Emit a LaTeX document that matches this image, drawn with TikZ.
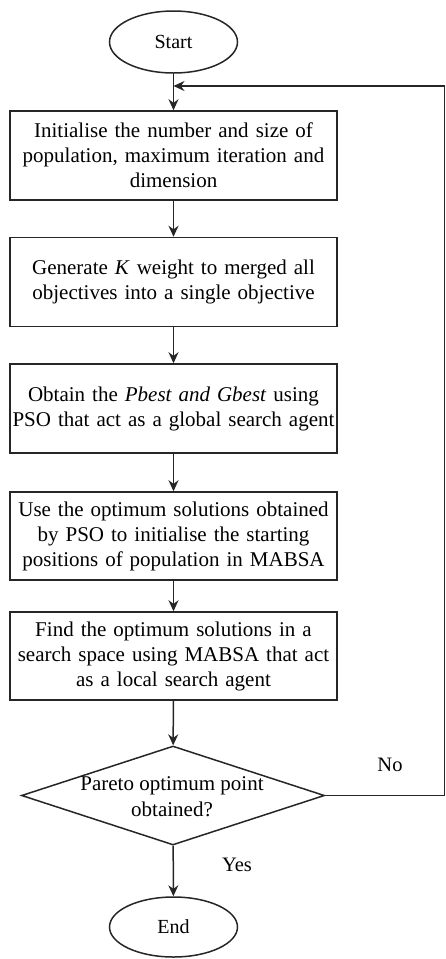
\documentclass[tikz,border=0pt]{standalone}
\usepackage{fontspec}
\setmainfont{Liberation Serif}
\usetikzlibrary{shapes.geometric,arrows.meta}
\tikzset{
  line/.style={draw=black!85, line width=1.5pt},
  arr/.style={line, -{Stealth[length=11pt,width=10pt]}},
  procbox/.style={line, rectangle, minimum width=327pt, minimum height=89pt, inner sep=0pt, text width=326pt, align=center, font=\fontsize{21}{25}\selectfont},
  term/.style={line, ellipse, minimum width=128pt, minimum height=62pt, inner sep=0pt, font=\fontsize{20}{24}\selectfont},
  lbl/.style={font=\fontsize{20.5}{24}\selectfont, inner sep=0pt}
}
\begin{document}
\begin{tikzpicture}[x=1pt,y=-1pt]
\useasboundingbox (0,0) rectangle (446,959);
\node[term] (start) at (173.5,42) {Start};
\node[procbox] (b1) at (173.5,155.5) {Initialise the number and size of\\population, maximum iteration and\\dimension};
\node[procbox] (b2) at (173.5,282) {Generate \textit{K} weight to merged all\\objectives into a single objective};
\node[procbox] (b3) at (173.5,408.5) {Obtain the \textit{Pbest and Gbest} using\\PSO that act as a global search agent};
\node[procbox, minimum height=88pt] (b4) at (173.5,536) {Use the optimum solutions obtained\\by PSO to initialise the starting\\positions of population in MABSA};
\node[procbox, minimum height=88pt] (b5) at (173.5,656) {Find the optimum solutions in a\\search space using MABSA that act\\as a local search agent};
\node[line, diamond, minimum width=303pt, minimum height=99pt, inner sep=0pt] (d) at (173,795.5) {};
\node[lbl, align=center, font=\fontsize{21}{26}\selectfont] (dt) at (172,797) {Pareto optimum point\\obtained?};
\node[term, minimum height=60pt] (end) at (173.5,927) {End};
\node[lbl] (no) at (390,765) {No};
\node[lbl] (yes) at (237,865) {Yes};
\coordinate (j) at (173.5,86);
\coordinate (rb) at (444.5,795.5);
\draw[arr] (start) -- (b1);
\draw[arr] (b1) -- (b2);
\draw[arr] (b2) -- (b3);
\draw[arr] (b3) -- (b4);
\draw[arr] (b4) -- (b5);
\draw[arr] (b5) -- (d);
\draw[arr] (d) -- (end);
\draw[arr] (d.east) -- (rb) |- (j);
\end{tikzpicture}
\end{document}
